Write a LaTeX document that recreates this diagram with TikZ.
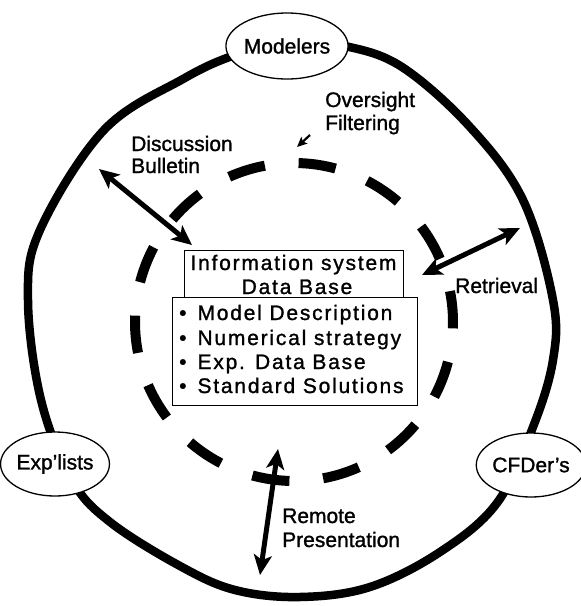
\documentclass[tikz,border=0pt]{standalone}
\usepackage{fontspec}
\setmainfont{Liberation Sans}[FakeBold=1.2]
\newfontfamily\boxfont[LetterSpace=8.5,FakeBold=1.2]{Liberation Sans}
\usetikzlibrary{arrows.meta,shapes.geometric}
\begin{document}
\begin{tikzpicture}[x=1pt,y=-1pt,
  lbl/.style={font=\fontsize{21}{24}\selectfont, inner sep=0pt, anchor=base west},
  boxtxt/.style={font=\boxfont\fontsize{21}{24}\selectfont, inner sep=0pt},
  actor/.style={ellipse, draw, line width=1.3pt, fill=white, inner sep=0pt,
    font=\fontsize{21}{24}\selectfont},
  panel/.style={draw, line width=1.3pt, fill=white, inner sep=0pt},
  ring/.style={line width=8.5pt},
  dashseg/.style={line width=10pt},
  flow/.style={line width=5pt,
    {Stealth[length=20pt,width=18pt,inset=5pt]}-{Stealth[length=20pt,width=18pt,inset=5pt]}},
  pointer/.style={line width=2.2pt, -{Stealth[length=10pt,width=9pt,inset=2pt]}}
]
\useasboundingbox (0,0) rectangle (581,606);
\fill[white] (0,0) rectangle (581,606);

% outer ring
\draw[ring] plot[smooth cycle, tension=0.6] coordinates {
  (290,41) (345,46) (402,67) (470,127) (523,200) (553,300) (553,360)
  (533,427) (497,503) (440,552) (370,587) (300,597) (235,590) (180,566)
  (110,522) (72,480) (41,400) (28,300) (40,230) (104,130) (183,79) (235,55)};

% inner dashed ring
\foreach \k in {0,...,13} {
  \pgfmathsetmacro\a{-2.3+25.714*\k}
  \draw[dashseg] plot[domain=\a:\a+13.5, samples=14]
    ({294+159*cos(\x)},{322-159*sin(\x)});
}

% actors
\node[actor, minimum width=110pt, minimum height=66pt] (mod) at (287,46) {Modelers};
\node[actor, minimum width=92pt, minimum height=64pt] (exp) at (55,464) {Exp'lists};
\node[actor, minimum width=100pt, minimum height=64pt] (cfd) at (531,465) {CFDer's};

% central boxes
\node[panel, minimum width=219pt, minimum height=47pt, anchor=north west] (info) at (184,250) {};
\node[panel, minimum width=245pt, minimum height=108pt, anchor=north west] (list) at (172,297) {};
\node[boxtxt, anchor=base] (t1) at (293.5,270) {Information system};
\node[boxtxt, anchor=base] (t2) at (297,294) {Data Base};
\node[boxtxt, anchor=base west] (b1) at (179,320) {\textbullet\hspace{11pt}Model Description};
\node[boxtxt, anchor=base west] (b2) at (179,345) {\textbullet\hspace{11pt}Numerical strategy};
\node[boxtxt, anchor=base west] (b3) at (179,369) {\textbullet\hspace{11pt}Exp. Data Base};
\node[boxtxt, anchor=base west] (b4) at (179,393) {\textbullet\hspace{11pt}Standard Solutions};

% labels
\node[lbl] (ov1) at (325,107) {Oversight};
\node[lbl] (ov2) at (325,130) {Filtering};
\node[lbl] (di1) at (131,151) {Discussion};
\node[lbl] (di2) at (131,173) {Bulletin};
\node[lbl] (ret) at (455,293) {Retrieval};
\node[lbl] (re1) at (282,523) {Remote};
\node[lbl] (re2) at (282,547) {Presentation};

% arrows
\coordinate (dA) at (99,169);  \coordinate (dB) at (192,245);
\coordinate (rA) at (422,275); \coordinate (rB) at (520,228);
\coordinate (pA) at (278,449); \coordinate (pB) at (260,575);
\coordinate (oA) at (310,135); \coordinate (oB) at (297,147);
\draw[flow] (dA) -- (dB);
\draw[flow] (rA) -- (rB);
\draw[flow] (pA) -- (pB);
\draw[pointer] (oA) -- (oB);
\end{tikzpicture}
\end{document}
